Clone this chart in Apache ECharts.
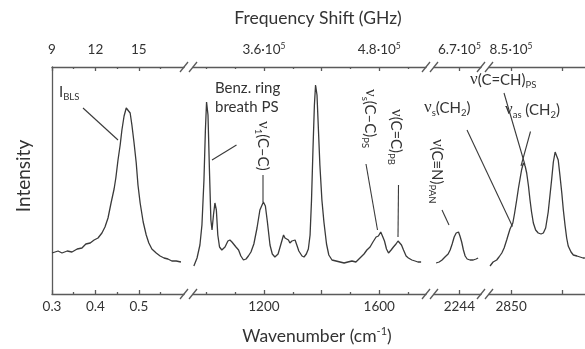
<!DOCTYPE html>
<html><head><meta charset="utf-8">
<script src="https://cdn.jsdelivr.net/npm/echarts@6/dist/echarts.min.js"></script>
<style>html,body{margin:0;padding:0;background:#fff}#c{width:585px;height:349px}</style>
</head><body><div id="c"></div>
<script>
// ---- Section 1: Brillouin (BLS) region, wavenumber in cm-1 ----
const sec1Wavenumber = [0.300,0.314,0.323,0.335,0.346,0.358,0.369,0.378,0.388,0.397,0.406,0.415,0.422,0.429,0.436,0.443,0.447,0.452,0.457,0.461,0.466,0.471,0.475,0.480,0.484,0.489,0.494,0.498,0.503,0.510,0.517,0.523,0.530,0.540,0.549,0.558,0.567,0.576,0.586,0.597];
const sec1Intensity  = [41,43,41,43,42,45,46,50,51,54,56,61,67,76,91,105,116,134,149,164,178,186,186,181,169,151,131,109,91,72,59,51,45,41,38,36,35,33,33,32];

// ---- Section 2: fingerprint region ----
const sec2Wavenumber = [957,968,978,985,992,997,1001,1006,1011,1016,1020,1025,1030,1035,1040,1046,1054,1065,1075,1082,1089,1094,1103,1112,1120,1129,1138,1146,1155,1165,1176,1186,1198,1205,1212,1221,1229,1238,1249,1259,1268,1273,1279,1285,1290,1297,1308,1314,1321,1332,1339,1347,1354,1360,1365,1370,1375,1379,1384,1389,1394,1401,1408,1417,1425,1436,1450,1464,1478,1491,1505,1519,1533,1547,1557,1568,1578,1589,1597,1605,1611,1618,1625,1632,1641,1649,1658,1665,1670,1677,1684,1693,1701,1713,1724,1734,1745];
const sec2Intensity  = [28,36,49,69,114,164,192,179,124,74,64,79,91,84,59,47,44,47,53,54,52,53,47,44,38,34,35,38,42,50,66,84,92,88,72,49,40,37,40,50,59,56,58,54,51,53,54,49,43,38,37,40,45,59,94,144,189,209,199,164,129,94,72,50,39,34,33,32,31,32,33,32,36,40,44,47,52,57,58,62,58,53,45,41,44,47,50,53,54,49,44,38,36,34,33,32,32];

// ---- Section 3: nitrile region ----
const sec3Wavenumber = [2163,2174,2184,2194,2205,2212,2219,2226,2233,2237,2241,2246,2252,2258,2264,2271,2281,2292,2302,2309];
const sec3Intensity  = [31,32,34,37,40,44,50,57,61,62.5,62,58,52,44,38,35,34,34,35,36];

// ---- Section 4: C-H stretching region ----
const sec4Wavenumber = [2768,2780,2794,2803,2814,2823,2833,2840,2846,2857,2864,2872,2879,2885,2891,2898,2905,2911,2918,2924,2930,2937,2946,2956,2967,2976,2985,2990,2995,3002,3009,3015,3022,3027,3034,3041,3048,3054,3061,3067,3073,3084,3093,3107,3119,3131,3138];
const sec4Intensity  = [28,32,34,37,41,46,54,60,65,71,81,94,106,115,124,131,128,121,108,94,82,71,64,61,60,61,66,74,82,99,116,132,142,141,134,118,101,84,68,56,48,42,39,38,37,36,36];

// ---- Axes ----
const axisRanges        = [[0.3,0.604],[954,1762],[2156,2319],[2764,3138.5]];
const majorTicks        = [[0.3,0.4,0.5],[1200,1400,1600],[2244],[2850,3050]];
const minorTicks        = [[0.35,0.45,0.55],[1000,1100,1300,1500,1700],[],[]];
const bottomLabelValues = [[0.3,0.4,0.5],[1200,1600],[2244],[2850]];
const bottomTickLabels  = [['0.3','0.4','0.5'],['1200','1600'],['2244'],['2850']];
const topTickLabels     = [['9','12','15'],['3.6×10⁵','4.8×10⁵'],['6.7×10⁵'],['8.5×10⁵']];
const intensityMax = 227;

const sections = [
  [sec1Wavenumber, sec1Intensity],
  [sec2Wavenumber, sec2Intensity],
  [sec3Wavenumber, sec3Intensity],
  [sec4Wavenumber, sec4Intensity]
];

const FONT = 'Lato';
const AX = '#5a5a5a';
const TXT = '#333333';
const gridBoxes = [{left:52,width:132},{left:193,width:233},{left:434,width:47},{left:489,width:96}];

const grid = gridBoxes.map(g => ({left:g.left, width:g.width, top:67, height:227, containLabel:false}));

function lookup(vals, labels, v){
  for (let k=0;k<vals.length;k++){ if (Math.abs(vals[k]-v) < 1e-6) return labels[k]; }
  return '';
}
function topFmt(s){
  return s.replace('×','{m|·}').replace('⁵','{s|5}');
}

const xAxis = [];
gridBoxes.forEach((g,i) => {
  ['bottom','top'].forEach(pos => {
    xAxis.push({
      type:'value', gridIndex:i, position:pos, min:axisRanges[i][0], max:axisRanges[i][1],
      axisLine:{show:true, onZero:false, lineStyle:{color:AX,width:1.3}},
      axisTick:{show:true, inside:true, length:4, customValues:majorTicks[i], lineStyle:{color:AX,width:1.3}},
      axisLabel:{
        show:true, customValues:bottomLabelValues[i], margin: pos==='bottom'?6:10,
        fontFamily:FONT, fontSize:13.5, color:TXT,
        formatter: v => pos==='bottom' ? lookup(bottomLabelValues[i], bottomTickLabels[i], v)
                                       : topFmt(lookup(bottomLabelValues[i], topTickLabels[i], v)),
        rich:{ m:{fontFamily:FONT,fontSize:13.5,color:TXT}, s:{fontFamily:FONT,fontSize:8.5,color:TXT,verticalAlign:'top',lineHeight:15} }
      },
      splitLine:{show:false}
    });
    xAxis.push({
      type:'value', gridIndex:i, position:pos, min:axisRanges[i][0], max:axisRanges[i][1],
      axisLine:{show:false},
      axisTick:{show:minorTicks[i].length>0, inside:true, length:2, customValues:minorTicks[i].length?minorTicks[i]:[axisRanges[i][0]], lineStyle:{color:AX,width:1.3}},
      axisLabel:{show:false}, splitLine:{show:false}
    });
  });
});

const yAxis = gridBoxes.map((g,i) => ({
  type:'value', gridIndex:i, min:0, max:intensityMax,
  axisLine:{show:i===0, lineStyle:{color:AX,width:1.3}},
  axisTick:{show:false}, axisLabel:{show:false}, splitLine:{show:false}
}));

const series = sections.map((s,i) => ({
  type:'line', xAxisIndex:i*4, yAxisIndex:i, symbol:'none', silent:true,
  lineStyle:{color:'#3a3a3a', width:1.3},
  data: s[0].map((w,k) => [w, s[1][k]])
}));

// ---- decorations: text, leader lines, axis breaks ----
const rich = {
  t:{fontFamily:FONT,fontSize:15,fill:TXT,color:TXT},
  n:{fontFamily:'Liberation Serif',fontSize:17,fill:TXT,color:TXT},
  s:{fontFamily:FONT,fontSize:9.5,fill:TXT,color:TXT,verticalAlign:'bottom',lineHeight:19},
  u:{fontFamily:FONT,fontSize:9.5,fill:TXT,color:TXT,verticalAlign:'top',lineHeight:19}
};
function txt(x,y,text,rot,align){
  return {type:'text', x:x, y:y, rotation:rot||0, silent:true,
    style:{text:text, rich:rich, fill:TXT, font:'15px '+FONT,
      align:align||'left', textAlign:align||'left', verticalAlign:'middle', textVerticalAlign:'middle'}};
}
function ln(x1,y1,x2,y2,c,w){
  return {type:'line', silent:true, shape:{x1:x1,y1:y1,x2:x2,y2:y2}, style:{stroke:c||'#3a3a3a', lineWidth:w||1.1}};
}
const R = -Math.PI/2;
const graphics = [
  // titles
  {type:'text', x:318, y:18, silent:true, style:{text:'Frequency Shift (GHz)', font:'17.5px '+FONT, fill:TXT, align:'center', textAlign:'center', verticalAlign:'middle', textVerticalAlign:'middle'}},
  {type:'text', x:317, y:336, silent:true, style:{text:'{t|Wavenumber (cm}{u|-1}{t|)}', rich:{t:{fontFamily:FONT,fontSize:17.5,fill:TXT,color:TXT,lineHeight:21},u:{fontFamily:FONT,fontSize:11,fill:TXT,color:TXT,verticalAlign:'top',lineHeight:21}}, align:'center', textAlign:'center', verticalAlign:'middle', textVerticalAlign:'middle'}},
  {type:'text', x:24, y:176, rotation:Math.PI/2, silent:true, style:{text:'Intensity', font:'19px '+FONT, fill:TXT, align:'center', textAlign:'center', verticalAlign:'middle', textVerticalAlign:'middle'}},
  // annotations
  txt(59,92,'{t|I}{s|BLS}'), ln(83,108,118,140),
  txt(215,88,'{t|Benz. ring}'), txt(215,107,'{t|breath PS}'), ln(236.5,145,212,160),
  txt(263,121,'{n|ν}{s|1}{t|(C–C)}',R), ln(263,175,263,202),
  txt(370,89,'{n|ν}{s|s}{t|(C–C)}{s|PS}',R), ln(366,164,377.5,230),
  txt(396,109,'{n|ν}{t|(C=C)}{s|PB}',R), ln(398.5,185,398,237),
  txt(437,139,'{n|ν}{t|(C≡N)}{s|PAN}',R), ln(442,210,449,225),
  txt(424,108,'{n|ν}{s|s}{t|(CH}{s|2}{t|)}'), ln(467,130,512.5,226.5),
  txt(470,80,'{n|ν}{t|(C=CH)}{s|PS}'), ln(504,93,525,165),
  txt(505,110,'{n|ν}{s|as}{t| (CH}{s|2}{t|)}'), ln(530.5,131.5,521,166)
];
// axis break marks
[[184,193],[426,434],[481,489]].forEach(pair => {
  pair.forEach(cx => {
    [294,67].forEach(y => graphics.push(ln(cx-4,y+5,cx+4,y-5,AX,1.3)));
  });
});

const chart = echarts.init(document.getElementById('c'));
chart.setOption({
  animation:false,
  backgroundColor:'#fff',
  grid:grid, xAxis:xAxis, yAxis:yAxis, series:series,
  graphic:{elements:graphics}
});
</script>
</body></html>
